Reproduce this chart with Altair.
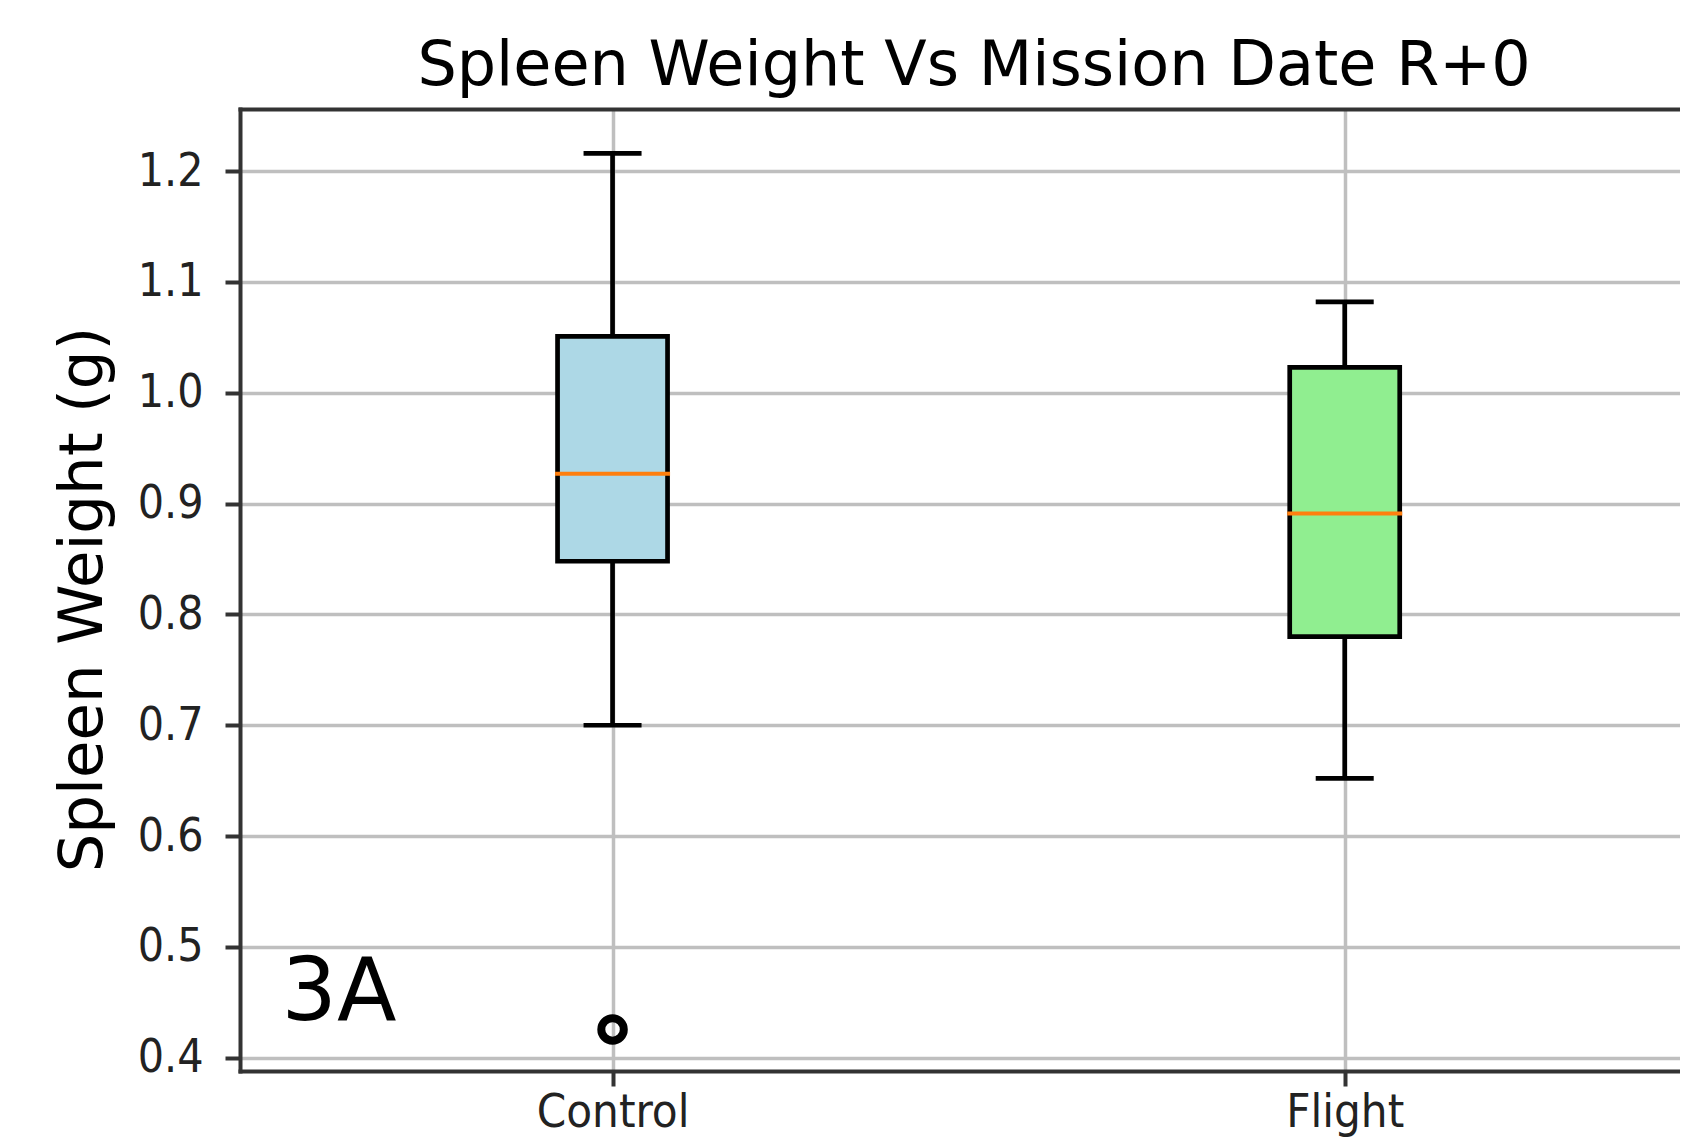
import altair as alt
import pandas as pd

# ---- data ----
groups = ["Control", "Flight"]
positions = [1, 2]
whisker_low = [0.700, 0.652]
q1 = [0.848, 0.780]
median = [0.927, 0.891]
q3 = [1.051, 1.023]
whisker_high = [1.216, 1.082]
box_colors = ["#add8e6", "#90ee90"]

outlier_group = ["Control"]
outlier_pos = [1]
outlier_value = [0.4255]

y_ticks = [0.4, 0.5, 0.6, 0.7, 0.8, 0.9, 1.0, 1.1, 1.2]
x_domain = [0.498, 2.4511]
y_domain = [0.388, 1.2561]

title_text = "Spleen Weight Vs Mission Date R+0"
y_title = "Spleen Weight (g)"
annot_text = ["3A"]
annot_x = [0.548]
annot_y = [0.4336]

# ---- tables ----
box_df = pd.DataFrame({
    "group": groups, "pos": positions, "low": whisker_low, "q1": q1,
    "median": median, "q3": q3, "high": whisker_high,
})
out_df = pd.DataFrame({"group": outlier_group, "pos": outlier_pos, "value": outlier_value})
ann_df = pd.DataFrame({"text": annot_text, "x": annot_x, "y": annot_y})

LABEL_FONT = "DejaVu Sans Condensed, DejaVu Sans"
TITLE_FONT = "DejaVu Sans"
SPINE = "#333333"
GRID = "#bfbfbf"
LW = 4.7

label_expr = " : ".join(
    f"datum.value == {p} ? '{g}'" for p, g in zip(positions, groups)
) + " : ''"

xscale = alt.Scale(domain=x_domain, zero=False, nice=False)
yscale = alt.Scale(domain=y_domain, zero=False, nice=False)

x_bottom = alt.Axis(
    values=positions, labelExpr=label_expr, title=None, grid=True,
    gridColor=GRID, gridWidth=3.5, domainColor=SPINE, domainWidth=4,
    domainCap="square", tickColor=SPINE, tickWidth=4, tickSize=15,
    labelFont=LABEL_FONT, labelFontSize=47, labelColor="#222222",
    labelPadding=3, labelAngle=0, labelBaseline="top", labelAlign="center",
    labelFlush=False, labelOverlap=False,
)
x_top = alt.Axis(
    orient="top", labels=False, ticks=False, grid=False, title=None,
    domainColor=SPINE, domainWidth=4, domainCap="square",
)
y_axis = alt.Axis(
    orient="left", values=y_ticks, format=".1f", title=y_title, grid=True,
    gridColor=GRID, gridWidth=3.5, domainColor=SPINE, domainWidth=4,
    domainCap="square", tickColor=SPINE, tickWidth=4, tickSize=15,
    labelFont=LABEL_FONT, labelFontSize=46, labelColor="#222222",
    labelPadding=22, labelBaseline="middle", labelOverlap=False,
    labelFlush=False, titleFont=TITLE_FONT, titleFontSize=61,
    titleFontWeight="normal", titleColor="black", titleAngle=270,
    titleX=-139, titleY=490, titleAlign="center", titleBaseline="alphabetic",
)

base = alt.Chart(box_df)

whisker = base.mark_rule(color="black", strokeWidth=LW, opacity=1).encode(
    x=alt.X("pos:Q", scale=xscale, axis=x_top),
    y=alt.Y("low:Q", scale=yscale, axis=None),
    y2="high:Q",
)
cap_low = base.mark_tick(orient="horizontal", size=58, thickness=LW, color="black", opacity=1).encode(
    x=alt.X("pos:Q", scale=xscale, axis=None),
    y=alt.Y("low:Q", scale=yscale, axis=None),
)
cap_high = base.mark_tick(orient="horizontal", size=58, thickness=LW, color="black", opacity=1).encode(
    x=alt.X("pos:Q", scale=xscale, axis=None),
    y=alt.Y("high:Q", scale=yscale, axis=None),
)
box = base.mark_bar(size=110, stroke="black", strokeWidth=LW, opacity=1).encode(
    x=alt.X("pos:Q", scale=xscale, axis=x_bottom),
    y=alt.Y("q1:Q", scale=yscale, axis=y_axis),
    y2="q3:Q",
    color=alt.Color("group:N", scale=alt.Scale(domain=groups, range=box_colors), legend=None),
)
med = base.mark_tick(orient="horizontal", size=115, thickness=4, color="#ff7f0e", opacity=1).encode(
    x=alt.X("pos:Q", scale=xscale, axis=None),
    y=alt.Y("median:Q", scale=yscale, axis=None),
)
outl = alt.Chart(out_df).mark_point(
    shape="circle", filled=False, color="black", strokeWidth=8, size=506, opacity=1
).encode(
    x=alt.X("pos:Q", scale=xscale, axis=None),
    y=alt.Y("value:Q", scale=yscale, axis=None),
)
ann = alt.Chart(ann_df).mark_text(
    font=TITLE_FONT, fontSize=87, color="black", align="left", baseline="alphabetic"
).encode(
    x=alt.X("x:Q", scale=xscale, axis=None),
    y=alt.Y("y:Q", scale=yscale, axis=None),
    text="text:N",
)

chart = (
    alt.layer(whisker, cap_low, cap_high, box, med, outl, ann)
    .resolve_axis(x="independent", y="independent")
    .properties(
        width=1440,
        height=962,
        autosize=alt.AutoSizeParams(type="none"),
        padding={"left": 232, "top": 101, "right": 0, "bottom": 66},
        title=alt.TitleParams(
            text=title_text, font=TITLE_FONT, fontSize=62, fontWeight="normal",
            color="black", anchor="middle", frame="group",
            baseline="alphabetic", offset=22, dx=14, dy=60,
        ),
    )
    .configure_view(stroke=None)
    .configure(background="white")
)

chart.save("out.html", embed_options={"renderer": "svg", "actions": False})
